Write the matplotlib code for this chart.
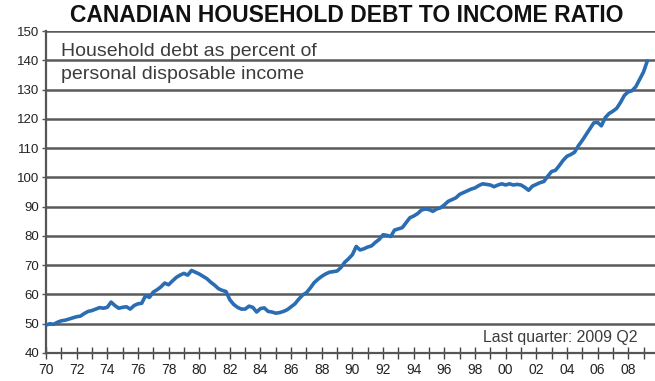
import numpy as np
import matplotlib.pyplot as plt

plt.rcParams["font.family"] = ["Liberation Sans", "DejaVu Sans"]

# quarterly household debt / personal disposable income, 1970Q1 - 2009Q2
ratio = [
    49.5, 50.0, 49.8, 50.5,
    51.0, 51.2, 51.6, 52.0,
    52.4, 52.6, 53.5, 54.2,
    54.5, 55.0, 55.5, 55.3,
    55.6, 57.4, 56.2, 55.3,
    55.6, 55.8, 55.0, 56.2,
    56.8, 57.0, 59.6, 59.0,
    60.8, 61.6, 62.6, 63.9,
    63.3, 64.6, 65.8, 66.6,
    67.2, 66.6, 68.2, 67.6,
    67.0, 66.2, 65.4, 64.2,
    63.2, 62.0, 61.4, 61.0,
    58.2, 56.6, 55.6, 55.0,
    55.0, 56.0, 55.6, 54.0,
    55.2, 55.4, 54.2, 54.0,
    53.6, 53.8, 54.2, 54.8,
    55.8, 56.8, 58.4, 59.8,
    60.6, 62.2, 64.0, 65.2,
    66.2, 67.0, 67.6, 67.8,
    68.0, 69.2, 71.0, 72.2,
    73.6, 76.4, 75.2, 75.6,
    76.2, 76.6, 77.8, 78.8,
    80.4, 80.2, 79.8, 82.0,
    82.4, 82.8, 84.5, 86.2,
    86.8, 87.6, 88.8, 89.2,
    89.0, 88.4, 89.2, 89.6,
    90.6, 91.8, 92.4, 93.0,
    94.2, 94.8, 95.4, 96.0,
    96.4, 97.2, 97.8, 97.6,
    97.4, 96.8, 97.4, 97.8,
    97.4, 97.8, 97.4, 97.6,
    97.4, 96.6, 95.6, 97.0,
    97.6, 98.2, 98.6, 100.4,
    102.0, 102.4, 104.0, 105.8,
    107.2, 107.8, 108.6, 110.8,
    112.6, 114.6, 116.6, 118.6,
    118.8, 117.6, 120.4, 121.8,
    122.6, 123.6, 125.6, 128.0,
    129.2, 129.6, 131.0, 133.5,
    136.0, 139.8,
]
quarters = 1970 + np.arange(len(ratio)) / 4

year_ticks = np.arange(1970, 2010)
label_years = np.arange(1970, 2010, 2)
year_labels = ["%02d" % (y % 100) for y in label_years]
y_ticks = np.arange(40, 151, 10)

fig = plt.figure(figsize=(6.55, 3.81), dpi=100)
ax = fig.add_axes([0.0702, 0.0735, 0.9298, 0.8451])

# horizontal grid
for v in y_ticks[1:]:
    ax.axhline(v, color="#5a5a5a", lw=1.8, zorder=1)

ax.plot(quarters, ratio, color="#2a6db3", lw=2.6, solid_capstyle="round",
        solid_joinstyle="round", zorder=3)

ax.set_xlim(1970, 2009.75)
ax.set_ylim(40, 150)

for side in ["top", "right"]:
    ax.spines[side].set_visible(False)
ax.spines["left"].set_color("#555555")
ax.spines["left"].set_linewidth(1.6)
ax.spines["bottom"].set_color("#555555")
ax.spines["bottom"].set_linewidth(1.6)

ax.set_yticks(y_ticks)
ax.tick_params(axis="y", length=3, width=1, color="#555555", labelsize=9.5,
               labelcolor="#222222", pad=2)

ax.set_xticks(year_ticks, minor=True)
ax.set_xticks(label_years)
ax.set_xticklabels(year_labels)
ax.tick_params(axis="x", which="both", direction="inout", length=8, width=1,
               color="#444444", labelsize=10, labelcolor="#222222", pad=3)

fig.text(0.53, 0.96, "CANADIAN HOUSEHOLD DEBT TO INCOME RATIO", ha="center",
         va="center", fontsize=16.5, fontweight="bold", color="#111111")

# two-line note in the top left corner
ax.text(0.0246, 0.922, "Household debt as percent of", transform=ax.transAxes,
        ha="left", va="baseline", fontsize=14, color="#3c3c3c")
ax.text(0.0246, 0.851, "personal disposable income", transform=ax.transAxes,
        ha="left", va="baseline", fontsize=14, color="#3c3c3c")
ax.text(0.972, 0.034, "Last quarter: 2009 Q2", transform=ax.transAxes,
        ha="right", va="baseline", fontsize=11.4, color="#3c3c3c")

plt.savefig("out.png", dpi=100)
